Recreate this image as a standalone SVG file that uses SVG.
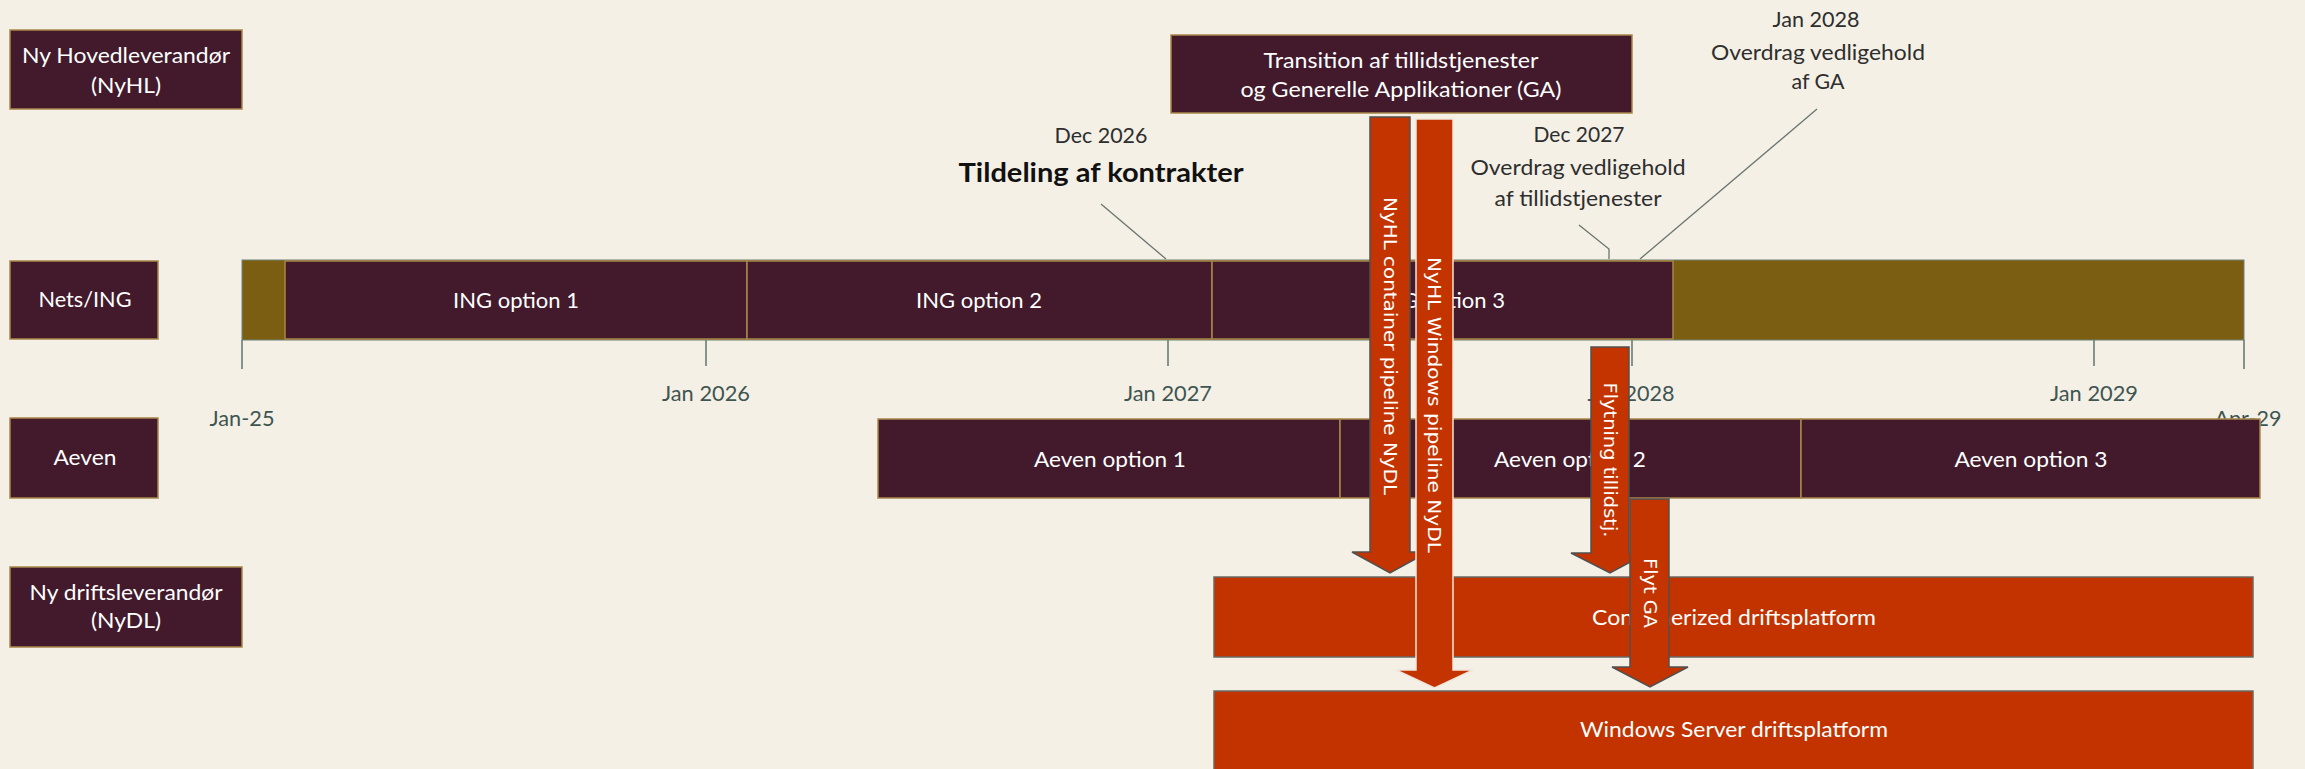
<svg xmlns="http://www.w3.org/2000/svg" width="2305" height="769" viewBox="0 0 2305 769">
<style>
.bg{fill:#f4f0e5}
.box{fill:#421a2b;stroke:#a8874a;stroke-width:1.5}
.olive{fill:#7b5e12;stroke:#6d8276;stroke-width:1}
.plat{fill:#c23300;stroke:#6a6a66;stroke-width:1.5}
.lbl{font-family:Lato,"Open Sans",sans-serif;font-size:22px;fill:#ffffff;text-anchor:middle}
.ann{font-family:Lato,"Open Sans",sans-serif;font-size:21px;fill:#2e2e2e;text-anchor:middle}
.annb{font-family:Lato,"Open Sans",sans-serif;font-size:26px;font-weight:bold;fill:#111111;text-anchor:middle}
.ax{font-family:Lato,"Open Sans",sans-serif;font-size:22px;fill:#3f5552;text-anchor:middle}
.tick{stroke:#5f7570;stroke-width:1.5;fill:none}
.lead{stroke:#6b7470;stroke-width:1.3;fill:none}
.arr{fill:#c43400;stroke:#505050;stroke-width:1.5}
.arrl{fill:#c43400;stroke:#f0e6dc;stroke-width:1.5}
.atx{font-family:"DejaVu Sans",Verdana,sans-serif;font-size:17px;fill:#ffffff;text-anchor:middle}
</style>
<rect class="bg" x="0" y="0" width="2305" height="769"/>

<g id="lane-nyhl">
<rect class="box" x="10" y="30" width="232" height="79"/>
<text class="lbl" x="126" y="63" textLength="208" lengthAdjust="spacingAndGlyphs">Ny Hovedleverandør</text>
<text class="lbl" x="126" y="93" textLength="70" lengthAdjust="spacingAndGlyphs">(NyHL)</text>
</g>
<g id="lane-nets">
<rect class="box" x="10" y="261" width="148" height="78"/>
<text class="lbl" x="85" y="307" textLength="93" lengthAdjust="spacingAndGlyphs">Nets/ING</text>
</g>
<g id="lane-aeven">
<rect class="box" x="10" y="418" width="148" height="80"/>
<text class="lbl" x="85" y="465" textLength="63" lengthAdjust="spacingAndGlyphs">Aeven</text>
</g>
<g id="lane-nydl">
<rect class="box" x="10" y="567" width="232" height="80"/>
<text class="lbl" x="126" y="600" textLength="193" lengthAdjust="spacingAndGlyphs">Ny driftsleverandør</text>
<text class="lbl" x="126" y="628" textLength="70" lengthAdjust="spacingAndGlyphs">(NyDL)</text>
</g>

<g id="axis">
<line class="tick" x1="242" y1="340" x2="242" y2="369"/>
<line class="tick" x1="706" y1="337" x2="706" y2="366"/>
<line class="tick" x1="1168" y1="337" x2="1168" y2="366"/>
<line class="tick" x1="1632" y1="337" x2="1632" y2="366"/>
<line class="tick" x1="2094" y1="337" x2="2094" y2="366"/>
<line class="tick" x1="2244" y1="340" x2="2244" y2="369"/>
<text class="ax" x="242" y="426" textLength="65" lengthAdjust="spacingAndGlyphs">Jan-25</text>
<text class="ax" x="706" y="401" textLength="88" lengthAdjust="spacingAndGlyphs">Jan 2026</text>
<text class="ax" x="1168" y="401" textLength="88" lengthAdjust="spacingAndGlyphs">Jan 2027</text>
<text class="ax" x="1631" y="401" textLength="87" lengthAdjust="spacingAndGlyphs">Jan 2028</text>
<text class="ax" x="2094" y="401" textLength="88" lengthAdjust="spacingAndGlyphs">Jan 2029</text>
<text class="ax" x="2248" y="426" textLength="67" lengthAdjust="spacingAndGlyphs">Apr-29</text>
</g>

<g id="nets-timeline">
<rect class="olive" x="242" y="260" width="2002" height="80"/>
<rect class="box" x="285" y="261" width="462" height="78"/>
<text class="lbl" x="516" y="308" textLength="126" lengthAdjust="spacingAndGlyphs">ING option 1</text>
<rect class="box" x="747" y="261" width="465" height="78"/>
<text class="lbl" x="979" y="308" textLength="126" lengthAdjust="spacingAndGlyphs">ING option 2</text>
<rect class="box" x="1212" y="261" width="461" height="78"/>
<text class="lbl" x="1442" y="308" textLength="126" lengthAdjust="spacingAndGlyphs">ING option 3</text>
</g>

<g id="aeven-timeline">
<rect class="box" x="878" y="419" width="462" height="79"/>
<text class="lbl" x="1110" y="467" textLength="152" lengthAdjust="spacingAndGlyphs">Aeven option 1</text>
<rect class="box" x="1340" y="419" width="461" height="79"/>
<text class="lbl" x="1570" y="467" textLength="152" lengthAdjust="spacingAndGlyphs">Aeven option 2</text>
<rect class="box" x="1801" y="419" width="459" height="79"/>
<text class="lbl" x="2031" y="467" textLength="153" lengthAdjust="spacingAndGlyphs">Aeven option 3</text>
</g>

<g id="platform-container">
<rect class="plat" x="1214" y="577" width="1039" height="80"/>
<text class="lbl" x="1734" y="625" textLength="284" lengthAdjust="spacingAndGlyphs">Containerized driftsplatform</text>
</g>
<g id="platform-windows">
<rect class="plat" x="1214" y="691" width="1039" height="82"/>
<text class="lbl" x="1734" y="737" textLength="308" lengthAdjust="spacingAndGlyphs">Windows Server driftsplatform</text>
</g>

<g id="transition">
<rect class="box" x="1171" y="35" width="461" height="78"/>
<text class="lbl" x="1401" y="68" textLength="275" lengthAdjust="spacingAndGlyphs">Transition af tillidstjenester</text>
<text class="lbl" x="1401" y="97" textLength="321" lengthAdjust="spacingAndGlyphs">og Generelle Applikationer (GA)</text>
</g>

<g id="milestone-dec2026">
<text class="ann" x="1101" y="143" textLength="93" lengthAdjust="spacingAndGlyphs">Dec 2026</text>
<text class="annb" x="1101" y="182" textLength="285" lengthAdjust="spacingAndGlyphs">Tildeling af kontrakter</text>
</g>
<g id="milestone-dec2027">
<text class="ann" x="1579" y="142" textLength="91" lengthAdjust="spacingAndGlyphs">Dec 2027</text>
<text class="ann" x="1578" y="175" textLength="215" lengthAdjust="spacingAndGlyphs">Overdrag vedligehold</text>
<text class="ann" x="1578" y="206" textLength="167" lengthAdjust="spacingAndGlyphs">af tillidstjenester</text>
</g>
<g id="milestone-jan2028">
<text class="ann" x="1816" y="27" textLength="87" lengthAdjust="spacingAndGlyphs">Jan 2028</text>
<text class="ann" x="1818" y="60" textLength="214" lengthAdjust="spacingAndGlyphs">Overdrag vedligehold</text>
<text class="ann" x="1818" y="89" textLength="53" lengthAdjust="spacingAndGlyphs">af GA</text>
</g>

<g id="connectors">
<polyline class="lead" points="1101,204 1166,259"/>
<polyline class="lead" points="1579,225 1609,249 1609,259"/>
<polyline class="lead" points="1817,109 1640,259"/>

<polygon class="arr" points="1370,117 1410,117 1410,552 1428,552 1390,573 1352,552 1370,552"/>
<text class="atx" transform="translate(1390,346) rotate(90)" dy="0.36em" textLength="298" lengthAdjust="spacingAndGlyphs">NyHL container pipeline NyDL</text>
<polygon class="arrl" points="1416,119 1453,119 1453,670 1473,670 1434.5,688 1396,670 1416,670"/>
<text class="atx" transform="translate(1434.5,405) rotate(90)" dy="0.36em" textLength="296" lengthAdjust="spacingAndGlyphs">NyHL Windows pipeline NyDL</text>

<polygon class="arr" points="1591,347 1629,347 1629,553 1647,553 1610,573 1571,553 1591,553"/>
<text class="atx" transform="translate(1610,460) rotate(90)" dy="0.36em" textLength="155" lengthAdjust="spacingAndGlyphs">Flytning tillidstj.</text>
<polygon class="arr" points="1630,499 1669,499 1669,667 1688,667 1650,687 1612,667 1630,667"/>
<text class="atx" transform="translate(1650,593) rotate(90)" dy="0.36em" textLength="70" lengthAdjust="spacingAndGlyphs">Flyt GA</text>
</g>
</svg>
